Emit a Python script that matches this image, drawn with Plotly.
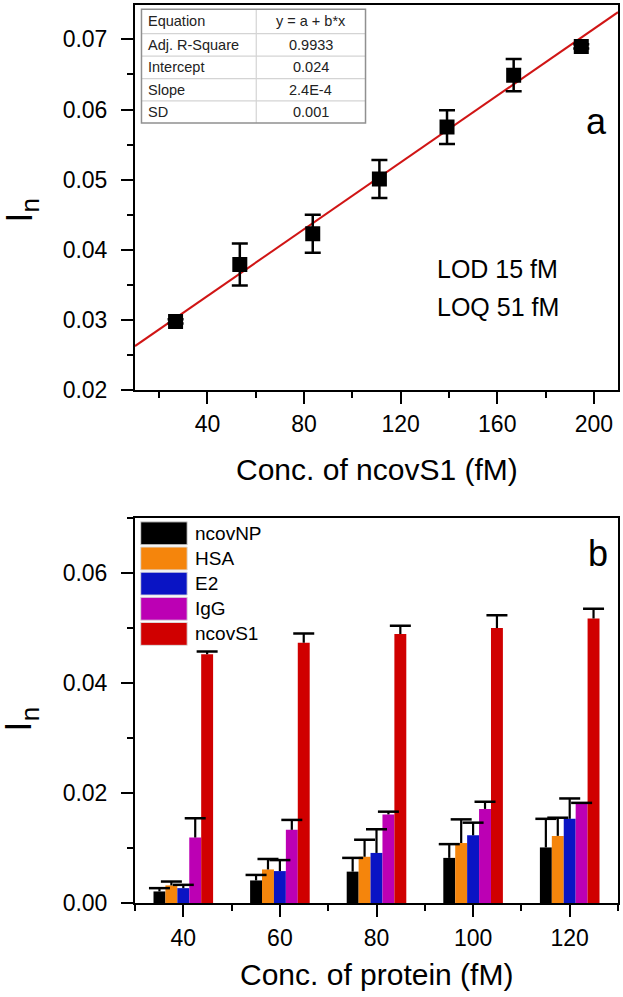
import plotly.graph_objects as go

# ---------------- data ----------------
# panel a: calibration
conc_s1 = [26.8, 53.4, 83.6, 111.2, 139.2, 166.8, 194.8]
in_s1 = [0.0298, 0.0379, 0.0423, 0.0501, 0.0575, 0.0649, 0.0690]
in_s1_err = [0.0003, 0.0030, 0.0027, 0.0027, 0.0024, 0.0023, 0.0003]
fit_intercept = 0.0239
fit_slope = 2.38e-4
fit_x = [10, 210]

table_labels = ["Equation", "Adj. R-Square", "Intercept", "Slope", "SD"]
table_values = ["y = a + b*x", "0.9933", "0.024", "2.4E-4", "0.001"]
lod_text = "LOD 15 fM"
loq_text = "LOQ 51 fM"

# panel b: selectivity
protein_conc = [40, 60, 80, 100, 120]
series_names = ["ncovNP", "HSA", "E2", "IgG", "ncovS1"]
series_values = [
    [0.0021, 0.0041, 0.0057, 0.0082, 0.0101],
    [0.0032, 0.0061, 0.0084, 0.0109, 0.0122],
    [0.0027, 0.0058, 0.0091, 0.0123, 0.0153],
    [0.0119, 0.0133, 0.0161, 0.0171, 0.0180],
    [0.0452, 0.0473, 0.0489, 0.0500, 0.0517],
]
series_errors = [
    [0.0006, 0.0010, 0.0025, 0.0025, 0.0052],
    [0.0007, 0.0019, 0.0031, 0.0043, 0.0033],
    [0.0006, 0.0020, 0.0043, 0.0023, 0.0037],
    [0.0035, 0.0018, 0.0005, 0.0013, 0.0002],
    [0.0005, 0.0017, 0.0015, 0.0023, 0.0018],
]
series_colors = ["#000000", "#F5850C", "#0A14C4", "#BC00B4", "#D00000"]

# ---------------- layout geometry (pixels) ----------------
W, H = 623, 997
L, R, T, B = 135, 4, 3, 94
PW = W - L - R
PH = H - T - B
TOP_Y0, TOP_Y1 = 389, 3      # pixel rows of top panel bottom / top
BOT_Y0, BOT_Y1 = 903, 517


def px_x(px):
    return (px - L) / PW


def py_top(py):
    return (TOP_Y0 - py) / (TOP_Y0 - TOP_Y1)


def py_bot(py):
    return (BOT_Y0 - py) / (BOT_Y0 - BOT_Y1)


def py_paper(py):
    return (H - B - py) / PH


FONT = "Liberation Sans, Arial, sans-serif"

fig = go.Figure()

# --- panel a traces
fig.add_trace(go.Scatter(
    x=fit_x, y=[fit_intercept + fit_slope * v for v in fit_x],
    mode="lines", line=dict(color="#D01515", width=2),
    xaxis="x", yaxis="y", showlegend=False, hoverinfo="skip"))
fig.add_trace(go.Scatter(
    x=conc_s1, y=in_s1, mode="markers",
    marker=dict(symbol="square", size=15, color="black"),
    error_y=dict(type="data", array=in_s1_err, color="black", thickness=2.5, width=8),
    xaxis="x", yaxis="y", showlegend=False))

# --- panel b traces
BARGAP = 0.383
for name, vals, errs, col in zip(series_names, series_values, series_errors, series_colors):
    fig.add_trace(go.Bar(
        x=protein_conc, y=vals, name=name, marker=dict(color=col, line=dict(width=0)),
        error_y=dict(type="data", array=errs, arrayminus=[0] * len(errs), symmetric=False,
                     color="black", thickness=2.2, width=0),
        xaxis="x2", yaxis="y2", showlegend=False, offsetgroup=name))
for name, vals, errs in zip(series_names, series_values, series_errors):
    fig.add_trace(go.Scatter(
        x=protein_conc, y=[v + e for v, e in zip(vals, errs)], mode="markers",
        marker=dict(symbol="line-ew", size=15, line=dict(color="black", width=2.5)),
        xaxis="x2", yaxis="y2", showlegend=False, offsetgroup=name, orientation="v",
        hoverinfo="skip"))

axis_common = dict(
    showline=True, linecolor="black", linewidth=2, mirror=True,
    ticks="outside", ticklen=12, tickwidth=2, tickcolor="black",
    showgrid=False, zeroline=False,
    tickfont=dict(family=FONT, size=23, color="black"),
)
minor_common = dict(ticks="outside", ticklen=6, tickwidth=2, tickcolor="black", showgrid=False)

fig.update_layout(
    width=W, height=H,
    margin=dict(l=L, r=R, t=T, b=B),
    paper_bgcolor="white", plot_bgcolor="white",
    barmode="group", bargap=BARGAP, bargroupgap=0,
    scattermode="group", scattergap=BARGAP,
    font=dict(family=FONT, color="black"),
    xaxis=dict(domain=[0, 1], anchor="y", range=[10, 210], tick0=0, dtick=40,
               ticklabelstandoff=0, minor=dict(dtick=20, **minor_common), **axis_common),
    yaxis=dict(domain=[py_paper(TOP_Y0), 1], anchor="x", range=[0.02, 0.0749],
               tick0=0, dtick=0.01, tickformat=".2f", ticklabelstandoff=9,
               minor=dict(dtick=0.005, **minor_common), **axis_common),
    xaxis2=dict(domain=[0, 1], anchor="y2", range=[30, 130], tick0=40, dtick=20,
                ticklabelstandoff=1, minor=dict(dtick=10, **minor_common), **axis_common),
    yaxis2=dict(domain=[0, py_paper(BOT_Y1)], anchor="x2", range=[0, 0.07],
                tick0=0, dtick=0.02, tickformat=".2f", ticklabelstandoff=9,
                minor=dict(dtick=0.01, **minor_common), **axis_common),
)

shapes = []
annotations = []

# ---- axis titles
annotations.append(dict(text="Conc. of ncovS1 (fM)", xref="paper", yref="paper",
                        x=0.5, y=py_paper(469), xanchor="center", yanchor="middle",
                        showarrow=False, font=dict(size=30, family=FONT)))
annotations.append(dict(text="Conc. of protein (fM)", xref="paper", yref="paper",
                        x=0.5, y=py_paper(975), xanchor="center", yanchor="middle",
                        showarrow=False, font=dict(size=30, family=FONT)))
for yc in (209, 719):
    annotations.append(dict(text="I<sub>n</sub>", xref="paper", yref="paper",
                            x=px_x(21), y=py_paper(yc), xanchor="center", yanchor="middle",
                            textangle=-90, showarrow=False, font=dict(size=37, family=FONT)))

# ---- panel labels
annotations.append(dict(text="a", xref="x domain", yref="y domain", x=px_x(597), y=py_top(120),
                        xanchor="center", yanchor="middle", showarrow=False,
                        font=dict(size=36, family=FONT)))
annotations.append(dict(text="b", xref="x2 domain", yref="y2 domain", x=px_x(599), y=py_bot(553),
                        xanchor="center", yanchor="middle", showarrow=False,
                        font=dict(size=36, family=FONT)))

# ---- LOD / LOQ
for txt, yc in ((lod_text, 268), (loq_text, 306)):
    annotations.append(dict(text=txt, xref="x domain", yref="y domain", x=px_x(436), y=py_top(yc),
                            xanchor="left", yanchor="middle", showarrow=False,
                            font=dict(size=25, family=FONT)))

# ---- fit table
tx0, tx1, tx2 = 141.5, 256.5, 366
row_edges = [7.3, 31.7, 54.3, 76.7, 99, 121.3]
for i in range(1, len(row_edges) - 1):
    shapes.append(dict(type="line", xref="x domain", yref="y domain",
                       x0=px_x(tx0), x1=px_x(tx2), y0=py_top(row_edges[i]), y1=py_top(row_edges[i]),
                       line=dict(color="#d4d4d4", width=1.2)))
shapes.append(dict(type="line", xref="x domain", yref="y domain",
                   x0=px_x(tx1), x1=px_x(tx1), y0=py_top(row_edges[0]), y1=py_top(row_edges[-1]),
                   line=dict(color="#d4d4d4", width=1.2)))
shapes.append(dict(type="rect", xref="x domain", yref="y domain",
                   x0=px_x(tx0), x1=px_x(tx2), y0=py_top(row_edges[-1]), y1=py_top(row_edges[0]),
                   line=dict(color="#909090", width=1.5), fillcolor="rgba(0,0,0,0)"))
for i, (lab, val) in enumerate(zip(table_labels, table_values)):
    yc = (row_edges[i] + row_edges[i + 1]) / 2
    annotations.append(dict(text=lab, xref="x domain", yref="y domain", x=px_x(tx0 + 5), y=py_top(yc),
                            xanchor="left", yanchor="middle", showarrow=False,
                            font=dict(size=14.5, family=FONT, color="#222222")))
    annotations.append(dict(text=val, xref="x domain", yref="y domain", x=px_x((tx1 + tx2) / 2),
                            y=py_top(yc), xanchor="center", yanchor="middle", showarrow=False,
                            font=dict(size=14.5, family=FONT, color="#222222")))

# ---- custom legend for panel b (large swatches)
sw_x0, sw_x1, txt_x = 140.7, 187.3, 193
for i, (name, col) in enumerate(zip(series_names, series_colors)):
    top = 521 + i * 25.2
    bot = top + 23
    shapes.append(dict(type="rect", xref="x2 domain", yref="y2 domain",
                       x0=px_x(sw_x0), x1=px_x(sw_x1), y0=py_bot(bot), y1=py_bot(top),
                       fillcolor=col, line=dict(color="#dddddd", width=1)))
    annotations.append(dict(text=name, xref="x2 domain", yref="y2 domain", x=px_x(txt_x),
                            y=py_bot((top + bot) / 2), xanchor="left", yanchor="middle",
                            showarrow=False, font=dict(size=19, family=FONT)))

fig.update_layout(shapes=shapes, annotations=annotations)
fig.write_html(
    "out.html",
    config={"displayModeBar": False},
    post_script="document.body.style.margin='0';document.body.style.overflow='hidden';",
)
